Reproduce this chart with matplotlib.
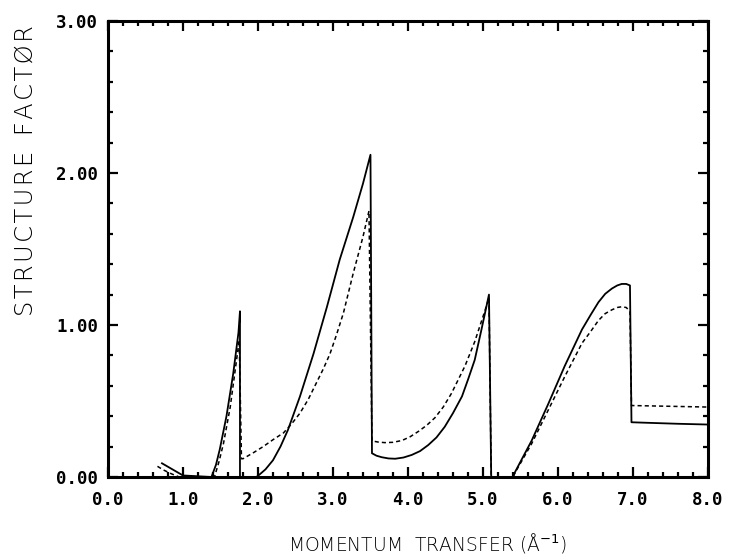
import matplotlib
matplotlib.use("Agg")
import matplotlib.pyplot as plt
from matplotlib.ticker import MultipleLocator, FormatStrFormatter

# solid curve (momentum transfer, structure factor)
solid_x = [0.72, 0.86, 1.0, 1.38, 1.44, 1.49, 1.58, 1.67, 1.74, 1.76, 1.76,
           1.98, 2.03, 2.10, 2.20, 2.30, 2.40, 2.56, 2.74, 2.92, 3.09, 3.27,
           3.40, 3.50, 3.52, 3.58, 3.65, 3.74, 3.83, 3.94, 4.05, 4.16, 4.27,
           4.38, 4.49, 4.60, 4.72, 4.80, 4.89, 4.98, 5.08, 5.11,
           5.40, 5.43, 5.65, 5.87, 6.09, 6.32, 6.44, 6.54, 6.63, 6.72, 6.79,
           6.85, 6.91, 6.96, 6.98, 7.16, 7.60, 8.0]
solid_y = [0.09, 0.05, 0.01, 0.0, 0.08, 0.18, 0.40, 0.68, 0.95, 1.09, 0.0,
           0.0, 0.02, 0.05, 0.11, 0.20, 0.31, 0.53, 0.81, 1.12, 1.43, 1.71,
           1.93, 2.12, 0.156, 0.14, 0.13, 0.122, 0.12, 0.128, 0.145, 0.17, 0.21,
           0.26, 0.33, 0.42, 0.53, 0.64, 0.77, 0.97, 1.20, 0.0,
           0.0, 0.035, 0.24, 0.48, 0.73, 0.97, 1.07, 1.15, 1.205, 1.24, 1.26,
           1.27, 1.27, 1.26, 0.36, 0.357, 0.35, 0.345]

# dashed curve
dash_x = [0.66, 0.74, 0.85, 0.95, 1.42, 1.48, 1.54, 1.63, 1.72, 1.75, 1.78,
          1.80, 1.94, 2.07, 2.20, 2.34, 2.45, 2.56, 2.67, 2.78, 2.87, 2.96,
          3.05, 3.14, 3.27, 3.40, 3.48, 3.52, 3.60, 3.69, 3.80, 3.92, 4.03,
          4.14, 4.25, 4.36, 4.47, 4.58, 4.67, 4.76, 4.89, 5.03, 5.08, 5.11,
          5.40, 5.43, 5.65, 5.87, 6.09, 6.32, 6.44, 6.54, 6.63, 6.72, 6.79,
          6.85, 6.91, 6.96, 6.98, 7.50, 8.0]
dash_y = [0.07, 0.046, 0.02, 0.0, 0.0, 0.10, 0.22, 0.46, 0.79, 0.90, 0.12,
          0.12, 0.16, 0.20, 0.245, 0.29, 0.35, 0.42, 0.51, 0.62, 0.71, 0.81,
          0.94, 1.08, 1.34, 1.58, 1.75, 0.237, 0.23, 0.226, 0.228, 0.24, 0.265,
          0.30, 0.34, 0.39, 0.46, 0.55, 0.64, 0.73, 0.89, 1.10, 1.18, 0.0,
          0.0, 0.03, 0.22, 0.44, 0.66, 0.88, 0.96, 1.03, 1.075, 1.10, 1.115,
          1.12, 1.115, 1.09, 0.47, 0.465, 0.46]

fig = plt.figure(figsize=(7.31, 5.58), dpi=100)
ax = fig.add_axes([0.1477, 0.1452, 0.8208, 0.8172])

ax.plot(solid_x, solid_y, color="black", lw=1.3)
ax.plot(dash_x, dash_y, color="black", lw=1.1, linestyle=(0, (2.7, 2.0)))

ax.set_xlim(0, 8)
ax.set_ylim(0, 3)
ax.xaxis.set_major_locator(MultipleLocator(1.0))
ax.xaxis.set_minor_locator(MultipleLocator(0.2))
ax.yaxis.set_major_locator(MultipleLocator(1.0))
ax.yaxis.set_minor_locator(MultipleLocator(0.2))
ax.xaxis.set_major_formatter(FormatStrFormatter("%.1f"))
ax.yaxis.set_major_formatter(FormatStrFormatter("%.2f"))

ax.tick_params(which="both", direction="in", top=True, right=True, width=1.6,
               color="black")
ax.tick_params(which="major", length=7)
ax.tick_params(which="minor", length=3.5)
ax.tick_params(axis="x", pad=10)
ax.tick_params(axis="y", pad=7)
for s in ax.spines.values():
    s.set_linewidth(2.2)

for lab in ax.get_xticklabels() + ax.get_yticklabels():
    lab.set_fontfamily("DejaVu Sans Mono")
    lab.set_fontweight("bold")
    lab.set_fontsize(12.5)

# hair spaces widen the letter spacing like the plotter font
ylab = "\u200a".join("STRUCTURE") + "  " + "\u200a".join("FACTØR")
ax.set_xlabel("MOMENTUM  TRANSFER (Å$^{-1}$)", fontsize=13.5, fontweight="light")
ax.xaxis.set_label_coords(0.533, -0.118)
ax.set_ylabel(ylab, fontsize=17.5, fontweight="light")
ax.yaxis.set_label_coords(-0.118, 0.671)

plt.savefig("out.png", dpi=100)
plt.close()
